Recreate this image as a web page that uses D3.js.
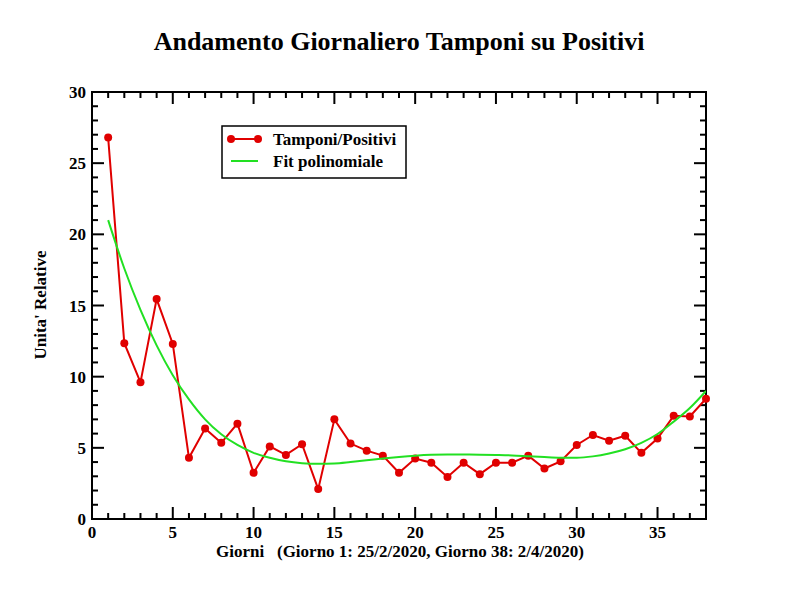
<!DOCTYPE html>
<html><head><meta charset="utf-8">
<script src="https://cdn.jsdelivr.net/npm/d3@7"></script>
<style>body{margin:0;background:#fff}text{font-family:"Liberation Serif","Times New Roman",serif;font-weight:bold}</style>
</head><body><svg id="c" width="792" height="612"></svg>
<script>
const days = d3.range(1, 39);
const ratio = [26.8,12.35,9.6,15.45,12.3,4.3,6.35,5.35,6.7,3.25,5.1,4.5,5.25,2.1,7.0,5.3,4.8,4.45,3.25,4.25,3.95,2.95,3.95,3.15,3.95,3.95,4.45,3.55,4.05,5.2,5.9,5.5,5.85,4.65,5.65,7.25,7.2,8.45];
const fit = [21.0,17.6,14.7,12.2,10.1,8.4,7.0,5.95,5.2,4.65,4.3,4.05,3.92,3.88,3.9,4.0,4.12,4.25,4.36,4.45,4.51,4.53,4.53,4.52,4.5,4.47,4.41,4.35,4.31,4.31,4.4,4.6,4.9,5.35,5.97,6.84,7.8,9.0];
const xTicks = [0,5,10,15,20,25,30,35];
const yTicks = [0,5,10,15,20,25,30];
const title = "Andamento Giornaliero Tamponi su Positivi";
const xLabel = "Giorni\u00a0\u00a0\u00a0(Giorno 1: 25/2/2020, Giorno 38: 2/4/2020)";
const yLabel = "Unita' Relative";
const seriesNames = ["Tamponi/Positivi","Fit polinomiale"];

const svg = d3.select("#c");
const L=92,R=706,T=92,B=519;
const x = d3.scaleLinear().domain([0,38]).range([L,R]);
const y = d3.scaleLinear().domain([0,30]).range([B,T]);
const red="#e00000", green="#22e022";

svg.append("text").attr("x",399).attr("y",50).attr("text-anchor","middle").attr("font-size",26).text(title);

const g = svg.append("g");
const xMinor = d3.range(0,39), yMinor = d3.range(0,31);
xMinor.forEach(v=>{
  const len = v%5===0?12:6;
  g.append("line").attr("x1",x(v)).attr("x2",x(v)).attr("y1",B).attr("y2",B-len).attr("stroke","#000").attr("stroke-width",2);
  g.append("line").attr("x1",x(v)).attr("x2",x(v)).attr("y1",T).attr("y2",T+len).attr("stroke","#000").attr("stroke-width",2);
});
yMinor.forEach(v=>{
  const len = v%5===0?12:6;
  g.append("line").attr("y1",y(v)).attr("y2",y(v)).attr("x1",L).attr("x2",L+len).attr("stroke","#000").attr("stroke-width",2);
  g.append("line").attr("y1",y(v)).attr("y2",y(v)).attr("x1",R).attr("x2",R-len).attr("stroke","#000").attr("stroke-width",2);
});
svg.append("rect").attr("x",L).attr("y",T).attr("width",R-L).attr("height",B-T).attr("fill","none").attr("stroke","#000").attr("stroke-width",2);

xTicks.forEach(v=>svg.append("text").attr("x",x(v)).attr("y",538).attr("text-anchor","middle").attr("font-size",17).text(v));
yTicks.forEach(v=>svg.append("text").attr("x",86).attr("y",y(v)+6).attr("text-anchor","end").attr("font-size",17).text(v));

svg.append("text").attr("x",400).attr("y",557).attr("text-anchor","middle").attr("font-size",17).text(xLabel);
svg.append("text").attr("transform","translate(46,305) rotate(-90)").attr("text-anchor","middle").attr("font-size",17).text(yLabel);

svg.append("clipPath").attr("id","pc").append("rect").attr("x",L).attr("y",T).attr("width",R-L).attr("height",B-T);

const lineR = d3.line().x((d,i)=>x(days[i])).y(d=>y(d));
const lineG = d3.line().x((d,i)=>x(days[i])).y(d=>y(d)).curve(d3.curveMonotoneX);

svg.append("path").attr("d",lineR(ratio)).attr("fill","none").attr("stroke",red).attr("stroke-width",2);
svg.selectAll(".pt").data(ratio).enter().append("circle").attr("cx",(d,i)=>x(days[i])).attr("cy",d=>y(d)).attr("r",4).attr("fill",red);
svg.append("path").attr("d",lineG(fit)).attr("fill","none").attr("stroke",green).attr("stroke-width",2).attr("clip-path","url(#pc)");

const lg = svg.append("g");
lg.append("rect").attr("x",222).attr("y",126).attr("width",184).attr("height",52).attr("fill","#fff").attr("stroke","#000").attr("stroke-width",1.5);
lg.append("line").attr("x1",231).attr("x2",258).attr("y1",139).attr("y2",139).attr("stroke",red).attr("stroke-width",2);
lg.append("circle").attr("cx",231).attr("cy",139).attr("r",4).attr("fill",red);
lg.append("circle").attr("cx",258).attr("cy",139).attr("r",4).attr("fill",red);
lg.append("line").attr("x1",231).attr("x2",258).attr("y1",161).attr("y2",161).attr("stroke",green).attr("stroke-width",2);
lg.append("text").attr("x",273).attr("y",145).attr("font-size",17).text(seriesNames[0]);
lg.append("text").attr("x",273).attr("y",167).attr("font-size",17).text(seriesNames[1]);
</script></body></html>
